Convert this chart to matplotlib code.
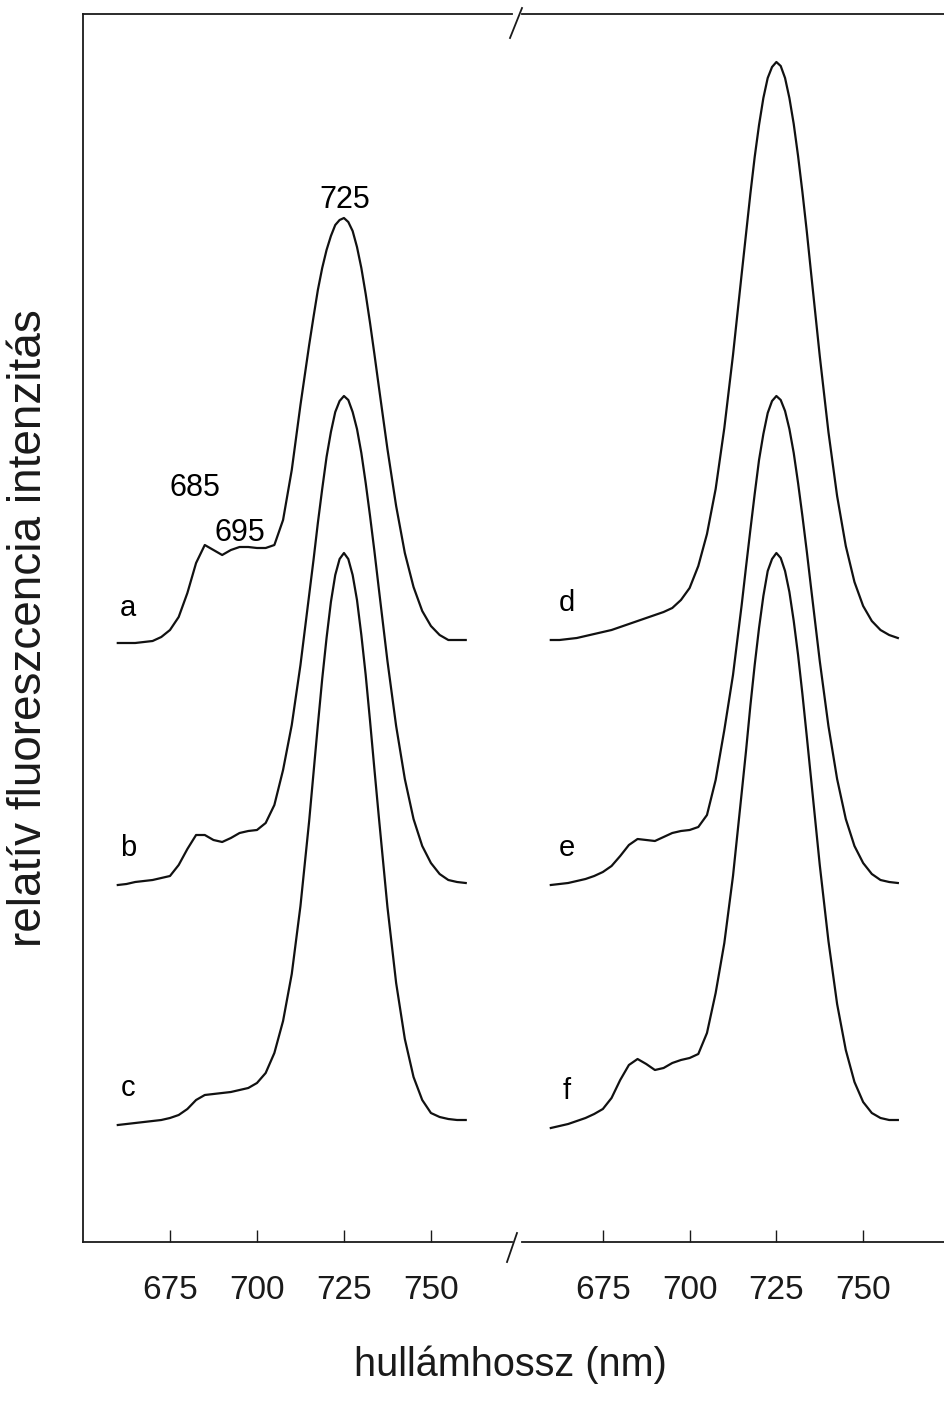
import numpy as np
import matplotlib
matplotlib.use("Agg")
import matplotlib.pyplot as plt
from matplotlib.lines import Line2D

plt.rcParams['font.family'] = ['Liberation Sans', 'DejaVu Sans']

# wavelength grid (nm): 2.5 nm steps, 1.25 nm around the 725 nm band
wl = np.concatenate([np.arange(660, 713, 2.5),
                     np.arange(715, 735.1, 1.25),
                     np.arange(737.5, 760.1, 2.5)])

# fluorescence emission spectra, arbitrary units above each trace's baseline
spec_a = [2, 2, 2, 3, 4, 8, 15, 28, 52, 82, 100, 95, 90, 95, 98, 98, 97, 97, 100, 125, 175, 240,
          300, 328, 355, 377, 395, 409, 420, 425, 427, 423, 414, 398, 377, 351, 322, 291, 259,
          196, 139, 92, 58, 34, 19, 10, 5, 5, 5]
spec_b = [0, 1, 3, 4, 5, 7, 9, 20, 36, 50, 50, 45, 43, 47, 52, 54, 55, 62, 80, 115, 160, 220,
          290, 325, 362, 396, 428, 453, 473, 484, 489, 485, 473, 456, 432, 402, 369, 334, 297,
          224, 159, 106, 66, 39, 22, 11, 5, 3, 2]
spec_c = [0, 1, 2, 3, 4, 5, 7, 10, 16, 25, 30, 31, 32, 33, 35, 37, 42, 52, 72, 104, 151, 219,
          304, 352, 400, 446, 487, 523, 550, 566, 572, 566, 550, 525, 490, 450, 404, 356, 309,
          218, 142, 86, 48, 25, 12, 8, 6, 5, 5]
spec_d = [0, 0, 1, 2, 4, 6, 8, 10, 13, 16, 19, 22, 25, 28, 32, 40, 52, 74, 106, 151, 212, 285,
          366, 406, 446, 483, 515, 542, 562, 573, 578, 574, 562, 542, 516, 484, 448, 409, 367,
          284, 208, 144, 94, 58, 34, 19, 10, 5, 2]
spec_e = [0, 1, 2, 4, 6, 9, 13, 19, 29, 40, 46, 45, 44, 48, 52, 54, 55, 58, 70, 105, 155, 210,
          280, 318, 355, 391, 425, 451, 472, 484, 489, 485, 474, 456, 432, 402, 369, 334, 297,
          224, 159, 106, 66, 39, 22, 11, 5, 3, 2]
spec_f = [0, 2, 4, 7, 10, 14, 19, 30, 48, 63, 69, 64, 58, 60, 65, 68, 70, 74, 95, 135, 185, 252,
          335, 377, 422, 463, 500, 532, 557, 569, 575, 570, 557, 536, 507, 473, 434, 392, 349,
          263, 187, 124, 78, 46, 26, 15, 10, 8, 8]

# vertical offsets of the stacked traces
offsets_left = [597, 357, 117]     # a, b, c
offsets_right = [602, 357, 114]    # d, e, f
names_left = ['a', 'b', 'c']
names_right = ['d', 'e', 'f']

ticks = [675, 700, 725, 750]

W, H = 944, 1405
fig = plt.figure(figsize=(W / 100, H / 100), dpi=100)
fig.patch.set_facecolor('white')

y0, y1 = 1242, 14
bot = 1 - y0 / H
hgt = (y0 - y1) / H
ax1 = fig.add_axes([83 / W, bot, (512 - 83) / W, hgt])
ax2 = fig.add_axes([522 / W, bot, (944 - 522) / W, hgt])

ax1.set_xlim(650, 773.3)
ax2.set_xlim(651.7, 773.3)
for ax in (ax1, ax2):
    ax.set_ylim(0, 1228)
    ax.set_yticks([])
    ax.set_xticks(ticks)
    ax.tick_params(axis='x', direction='in', length=9, width=1.0, pad=24,
                   labelsize=24, colors='#1a1a1a')
    ax.spines['right'].set_visible(False)
    for s in ('top', 'bottom', 'left'):
        ax.spines[s].set_linewidth(1.3)
        ax.spines[s].set_color('#1a1a1a')
ax2.spines['left'].set_visible(False)

for spec, off in zip([spec_a, spec_b, spec_c], offsets_left):
    ax1.plot(wl, np.array(spec) + off, color='#111111', lw=1.6, solid_joinstyle='round')
for spec, off in zip([spec_d, spec_e, spec_f], offsets_right):
    ax2.plot(wl, np.array(spec) + off, color='#111111', lw=1.6, solid_joinstyle='round')

# trace letters
for name, off in zip(names_left, offsets_left):
    ax1.text(663, off + 37, name, fontsize=21, ha='center', va='center')
for name, off in zip(names_right, offsets_right):
    ax2.text(664.5, off + 37, name, fontsize=21, ha='center', va='center')

# band positions on trace a
ax1.text(682.2, 754, '685', fontsize=22, ha='center', va='center')
ax1.text(695.2, 709, '695', fontsize=22, ha='center', va='center')
ax1.text(725.3, 1042, '725', fontsize=22, ha='center', va='center')

# axis break marks
for (xa, ya, xb, yb) in [(510, 38, 522, 8), (507, 1262, 517, 1233)]:
    fig.add_artist(Line2D([xa / W, xb / W], [1 - ya / H, 1 - yb / H],
                          transform=fig.transFigure, color='#1a1a1a', lw=1.3))

fig.text(510 / W, 1 - 1365 / H, 'hullámhossz (nm)', fontsize=28.5,
         ha='center', va='center', color='#1a1a1a')
fig.text(29 / W, 1 - 628 / H, 'relatív fluoreszcencia intenzitás', fontsize=33,
         ha='center', va='center', rotation=90, color='#1a1a1a')

fig.savefig('out.png', dpi=100, facecolor='white')
